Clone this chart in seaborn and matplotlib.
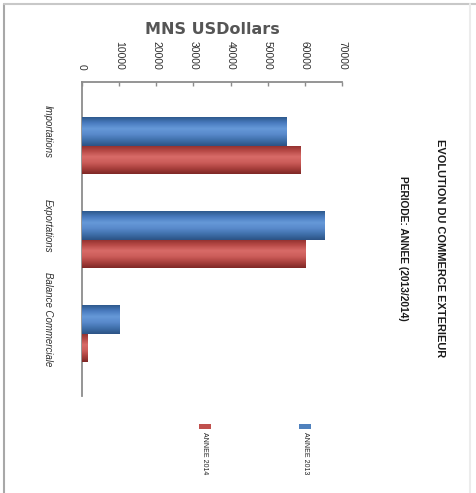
import numpy as np
import pandas as pd
import matplotlib
matplotlib.use("Agg")
import matplotlib.pyplot as plt
from matplotlib import font_manager
from matplotlib.colors import LinearSegmentedColormap
from matplotlib.patches import Rectangle
from matplotlib.lines import Line2D
from matplotlib.transforms import ScaledTranslation
import seaborn as sns

# ---- data -------------------------------------------------------------
categories = ["Importations", "Exportations", "Balance Commerciale"]
series = ["ANNEE 2013", "ANNEE 2014"]
values_2013 = [55100, 65200, 10100]
values_2014 = [58700, 60200, 1500]
value_ticks = [0, 10000, 20000, 30000, 40000, 50000, 60000, 70000]
value_tick_labels = ["0", "10000", "20000", "30000", "40000", "50000", "60000", "70000"]
title_line1 = "EVOLUTION DU COMMERCE EXTERIEUR"
title_line2 = "PERIODE: ANNEE (2013/2014)"
value_axis_title = "MNS USDollars"

colors = ["#4F81BD", "#C0504D"]

df = pd.DataFrame({
    "Poste": categories * 2,
    "Serie": [series[0]] * 3 + [series[1]] * 3,
    "Valeur": values_2013 + values_2014,
})

# ---- fonts ------------------------------------------------------------
def pick_font(cands):
    for c in cands:
        try:
            font_manager.findfont(font_manager.FontProperties(family=c),
                                  fallback_to_default=False)
            return c
        except Exception:
            continue
    return "DejaVu Sans"

narrow = pick_font(["Liberation Sans Narrow", "Liberation Sans", "DejaVu Sans"])

sns.set_theme(style="white")
plt.rcParams["font.family"] = [narrow, "DejaVu Sans"]

W, H = 477, 493
fig = plt.figure(figsize=(W / 100, H / 100), dpi=100)
fig.patch.set_facecolor("white")

# plot area in pixel coordinates (left, top, right, bottom)
L, T, R, B = 82, 82, 342, 396
ax = fig.add_axes([L / W, 1 - B / H, (R - L) / W, (B - T) / H])
ax.set_facecolor("white")

sns.barplot(data=df, y="Poste", x="Valeur", hue="Serie", orient="h",
            order=categories, hue_order=series, palette=colors,
            width=0.6, saturation=1, legend=False, ax=ax,
            edgecolor="none", linewidth=0)

ax.set_xlim(0, 70000)
ax.set_ylim(2.665, -0.676)

# cylinder-like shading on each bar
shades = {
    colors[0]: ["#2E5A8E", "#4A7CC0", "#6699D8", "#5889CB", "#4070AB", "#2C5385"],
    colors[1]: ["#8E2F2D", "#B84A47", "#D86B68", "#CC5D5A", "#AA413E", "#7F2826"],
}
grad = np.linspace(0, 1, 64).reshape(-1, 1)
for container, col in zip(ax.containers, colors):
    cmap = LinearSegmentedColormap.from_list("shade", shades[col])
    for bar in container:
        x0, y0 = bar.get_x(), bar.get_y()
        w, h = bar.get_width(), bar.get_height()
        im = ax.imshow(grad, cmap=cmap, aspect="auto", origin="upper",
                       extent=(x0, x0 + w, y0 + h, y0), zorder=3,
                       interpolation="bilinear")
        im.set_clip_path(bar)
ax.set_xlim(0, 70000)
ax.set_ylim(2.665, -0.676)

# axes styling
for s in ["right", "bottom"]:
    ax.spines[s].set_visible(False)
for s in ["left", "top"]:
    ax.spines[s].set_color("#8C8C8C")
    ax.spines[s].set_linewidth(1.3)

ax.xaxis.tick_top()
ax.set_xticks(value_ticks)
ax.set_xticklabels(value_tick_labels, rotation=-90, ha="center", va="bottom",
                   fontsize=7.5, color="#303030")
ax.tick_params(axis="x", which="both", top=True, bottom=False, length=3,
               width=1, color="#8C8C8C", direction="in", pad=9)

ax.set_yticks(range(len(categories)))
ax.set_yticklabels(categories, rotation=-90, ha="right", va="center",
                   fontsize=6.9, style="italic", color="#303030")
ax.tick_params(axis="y", length=0, pad=21)
shift = ScaledTranslation(0, 14 / 100, fig.dpi_scale_trans)
for lab in ax.get_yticklabels():
    lab.set_transform(lab.get_transform() + shift)

ax.set_ylabel("")
ax.set_xlabel(value_axis_title, fontsize=11.5, fontweight="bold",
              family=["DejaVu Sans"], color="#555555")
ax.xaxis.set_label_position("top")
ax.xaxis.set_label_coords(0.5, 1 + (T - 29) / (B - T))
ax.xaxis.label.set_va("center")

# titles (rotated)
fig.text(440 / W, 1 - 248 / H, title_line1, rotation=-90, ha="center",
         va="center", fontsize=7.9, fontweight="bold", color="#1a1a1a")
fig.text(403 / W, 1 - 248 / H, title_line2, rotation=-90, ha="center",
         va="center", fontsize=7.4, fontweight="bold", color="#1a1a1a")

# legend (rotated entries)
for name, col, xc in [(series[1], colors[1], 205), (series[0], colors[0], 305)]:
    fig.add_artist(Rectangle(((xc - 6) / W, 1 - 429 / H), 12 / W, 5 / H,
                             transform=fig.transFigure, facecolor=col,
                             edgecolor="none"))
    fig.text(xc / W, 1 - 432 / H, name, rotation=-90, ha="center", va="top",
             fontsize=5, color="#202020")

# outer chart frame
fig.add_artist(Line2D([4 / W, 4 / W], [0, 1 - 4 / H], transform=fig.transFigure,
                      color="#A8A8A8", lw=1.5))
fig.add_artist(Line2D([4 / W, 1], [1 - 4 / H, 1 - 4 / H], transform=fig.transFigure,
                      color="#C8C8C8", lw=1.5))
fig.add_artist(Line2D([470 / W, 470 / W], [0, 1 - 4 / H], transform=fig.transFigure,
                      color="#ECECEC", lw=1.5))

fig.savefig("out.png", dpi=100)
